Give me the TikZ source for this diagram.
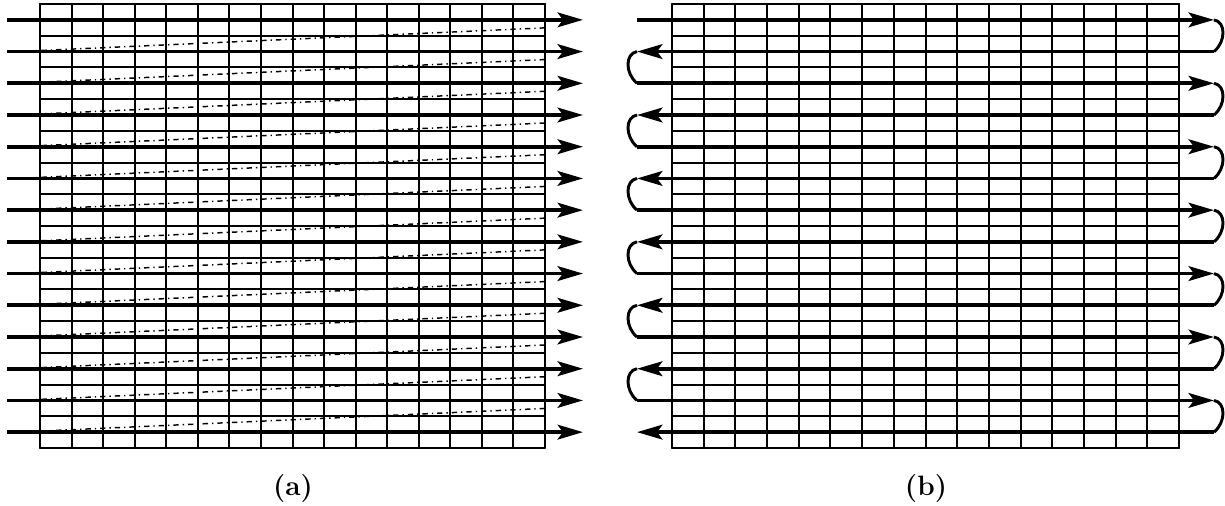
\documentclass[tikz,border=0pt]{standalone}
\usepackage{tikz}
\usetikzlibrary{arrows.meta}

\begin{document}
\begin{tikzpicture}[x=0.75pt, y=-0.75pt,
    cellline/.style={line width=1.5pt, line cap=round},
    scanline/.style={line width=2.8pt, -{Stealth[length=19pt, width=11pt, inset=4pt]}},
    retrace/.style={line width=1.1pt, dash pattern=on 4pt off 3pt on 1pt off 3pt},
    turn/.style={line width=2.2pt},
    caption/.style={font=\fontsize{21}{24}\selectfont\bfseries}]
  \useasboundingbox (0,0) rectangle (1225,506);

  % (a) raster scan with retrace
  \foreach \i in {0,...,16}
    \draw[cellline] ({40+31.5625*\i},4) -- ({40+31.5625*\i},448);
  \foreach \k in {0,...,28}
    \draw[cellline] (40,{4+15.857*\k}) -- (545,{4+15.857*\k});
  \foreach \j in {0,...,13} {
    \coordinate (aw\j) at (7,{4+15.857*(2*\j+1)});
    \coordinate (as\j) at (17,{4+15.857*(2*\j+1)});
    \coordinate (ae\j) at (583,{4+15.857*(2*\j+1)});
    \coordinate (ar\j) at (545,{12+15.857*(2*\j+1)});
    \draw[scanline] (aw\j) -- (ae\j);
  }
  \foreach \j [count=\n] in {0,...,12}
    \draw[retrace] (ar\j) -- (as\n);

  % (b) back and forth scan
  \foreach \i in {0,...,16}
    \draw[cellline] ({672+31.6875*\i},4) -- ({672+31.6875*\i},448);
  \foreach \k in {0,...,28}
    \draw[cellline] (672,{4+15.857*\k}) -- (1179,{4+15.857*\k});
  \foreach \j in {0,...,13} {
    \coordinate (bw\j) at (637,{4+15.857*(2*\j+1)});
    \coordinate (be\j) at (1214,{4+15.857*(2*\j+1)});
    \ifodd\j
      \draw[scanline] (be\j) -- (bw\j);
    \else
      \draw[scanline] (bw\j) -- (be\j);
    \fi
  }
  \foreach \j [count=\n] in {0,...,12} {
    \ifodd\j
      \draw[turn] (bw\j) .. controls +(-12,2) and +(-12,-10) .. (bw\n);
    \else
      \draw[turn] (be\j) .. controls +(12,2) and +(12,-10) .. (be\n);
    \fi
  }

  \node[caption] (capa) at (293,489) {(a)};
  \node[caption] (capb) at (926,489) {(b)};
\end{tikzpicture}
\end{document}
